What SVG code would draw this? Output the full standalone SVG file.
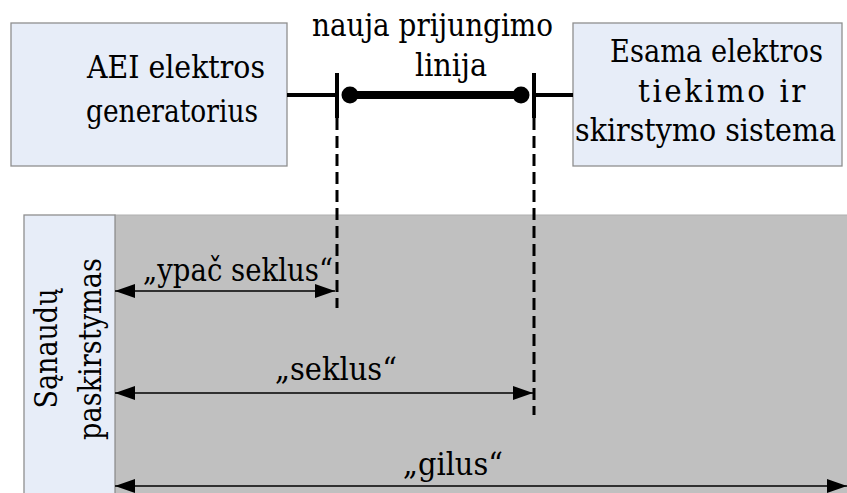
<svg xmlns="http://www.w3.org/2000/svg" width="847" height="493" viewBox="0 0 847 493">
  <style>
    .t { font-family: 'DejaVu Serif', serif; font-size: 32px; fill: #000; }
    .box { fill: #e7edf8; stroke: #8f8f8f; stroke-width: 1.3; }
    .wire { stroke: #000; stroke-width: 4; fill: none; }
    .bus { stroke: #000; stroke-width: 8; fill: none; }
    .dash { stroke: #000; stroke-width: 3; stroke-dasharray: 12 6; fill: none; }
    .dim { stroke: #000; stroke-width: 1.5; fill: none; marker-start: url(#ah); marker-end: url(#ah); }
  </style>
  <defs>
    <marker id="ah" viewBox="0 0 20 14" refX="20" refY="7" markerWidth="20" markerHeight="14" orient="auto-start-reverse" markerUnits="userSpaceOnUse">
      <path d="M0,0 L20,7 L0,14 z" fill="#000"/>
    </marker>
  </defs>

  <g id="area">
    <rect x="115" y="215" width="740" height="290" fill="#c0c0c0" stroke="#b0b0b0" stroke-width="1"/>
  </g>

  <g id="node-costs" class="t">
    <rect class="box" x="24" y="215" width="91" height="290"/>
    <text transform="translate(57,348.5) rotate(-90)" text-anchor="middle" textLength="120" lengthAdjust="spacingAndGlyphs">Sąnaudų</text>
    <text transform="translate(101,349) rotate(-90)" text-anchor="middle" textLength="182" lengthAdjust="spacingAndGlyphs">paskirstymas</text>
  </g>

  <g id="node-aei" class="t">
    <rect class="box" x="11" y="23" width="276" height="143"/>
    <text x="87" y="78" textLength="178" lengthAdjust="spacingAndGlyphs">AEI elektros</text>
    <text x="86" y="122" textLength="172" lengthAdjust="spacingAndGlyphs">generatorius</text>
  </g>

  <g id="node-esama" class="t">
    <rect class="box" x="573" y="23" width="269" height="143"/>
    <text transform="translate(610,62) scale(0.86,1)" x="0" y="0" textLength="247.7" lengthAdjust="spacingAndGlyphs">Esama elektros</text>
    <text transform="translate(638,102) scale(0.92,1)" x="0" y="0" textLength="182" lengthAdjust="spacing">tiekimo ir</text>
    <text transform="translate(575,141) scale(0.88,1)" x="0" y="0" textLength="296.6" lengthAdjust="spacingAndGlyphs">skirstymo sistema</text>
  </g>

  <g id="node-line-label" class="t">
    <text x="312" y="36" textLength="241" lengthAdjust="spacingAndGlyphs">nauja prijungimo</text>
    <text x="415" y="76" textLength="72" lengthAdjust="spacingAndGlyphs">linija</text>
  </g>

  <g id="connectors">
    <line class="wire" x1="287" y1="95" x2="337" y2="95"/>
    <line class="wire" x1="337" y1="73" x2="337" y2="118"/>
    <line class="bus" x1="350" y1="95" x2="521" y2="95"/>
    <circle cx="350" cy="95" r="8.5" fill="#000"/>
    <circle cx="521" cy="95" r="8.5" fill="#000"/>
    <line class="wire" x1="534" y1="73" x2="534" y2="118"/>
    <line class="wire" x1="534" y1="95" x2="573" y2="95"/>
    <line class="dash" x1="337" y1="118" x2="337" y2="308"/>
    <line class="dash" x1="534" y1="118" x2="534" y2="415"/>
    <line class="dim" x1="115" y1="291" x2="335" y2="291"/>
    <line class="dim" x1="115" y1="393" x2="533" y2="393"/>
    <line class="dim" x1="115" y1="486" x2="847" y2="486"/>
  </g>

  <g id="dim-labels" class="t">
    <text x="143" y="281" textLength="190" lengthAdjust="spacingAndGlyphs">„ypač seklus“</text>
    <text x="275" y="380" textLength="122" lengthAdjust="spacingAndGlyphs">„seklus“</text>
    <text x="403" y="475" textLength="100" lengthAdjust="spacingAndGlyphs">„gilus“</text>
  </g>
</svg>
